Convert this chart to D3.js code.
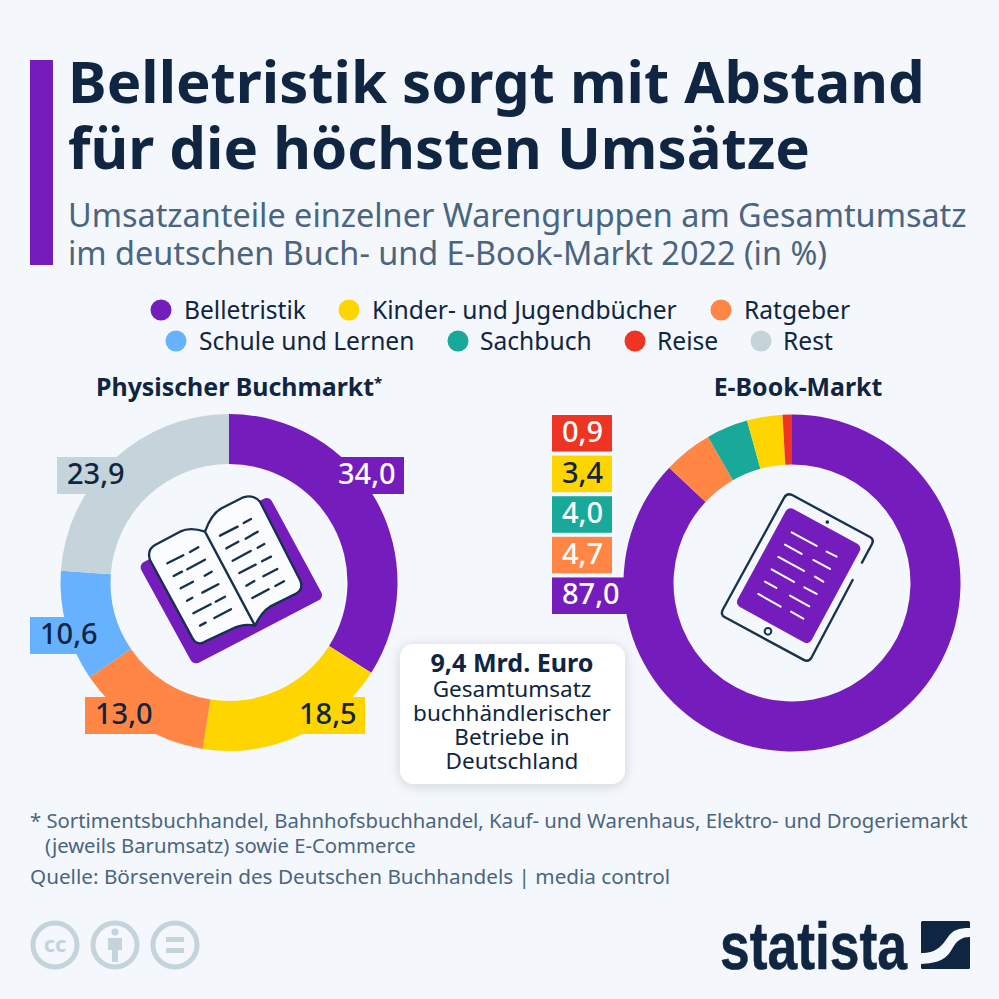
<!DOCTYPE html>
<html>
<head>
<meta charset="utf-8">
<script src="https://cdnjs.cloudflare.com/ajax/libs/d3/7.8.5/d3.min.js"></script>
<style>
  html, body { margin: 0; padding: 0; background: #f4f7fb; }
  svg { display: block; }
  text { font-family: "Noto Sans", sans-serif; }
</style>
</head>
<body>
<svg id="chart" width="999" height="999"></svg>
<script>
var categories = ["Belletristik", "Kinder- und Jugendbücher", "Ratgeber", "Schule und Lernen", "Sachbuch", "Reise", "Rest"];
var colors = ["#741cbc", "#ffd500", "#ff8645", "#66b2ff", "#18a999", "#ee3524", "#c5d3db"];

var printCategories = ["Belletristik", "Kinder- und Jugendbücher", "Ratgeber", "Schule und Lernen", "Rest"];
var printValues = [34.0, 18.5, 13.0, 10.6, 23.9];
var ebookCategories = ["Belletristik", "Ratgeber", "Sachbuch", "Kinder- und Jugendbücher", "Reise"];
var ebookValues = [87.0, 4.7, 4.0, 3.4, 0.9];
var ebookStack = ["Reise", "Kinder- und Jugendbücher", "Sachbuch", "Ratgeber", "Belletristik"];

var titleLines = ["Belletristik sorgt mit Abstand", "für die höchsten Umsätze"];
var subtitleLines = ["Umsatzanteile einzelner Warengruppen am Gesamtumsatz", "im deutschen Buch- und E-Book-Markt 2022 (in %)"];
var calloutLines = ["Gesamtumsatz", "buchhändlerischer", "Betriebe in", "Deutschland"];

var navy = "#0f2542", slate = "#4a6580";
var color = d3.scaleOrdinal().domain(categories).range(colors);
var fmt = function(v) { return v.toFixed(1).replace(".", ","); };
var darkLabels = ["Kinder- und Jugendbücher", "Schule und Lernen", "Rest"];
var labelColor = function(c) { return darkLabels.indexOf(c) >= 0 ? navy : "#fff"; };
// the value labels of the physical market are dark on orange too, the e-book ones are white
var printLabelColor = function(c) { return c === "Belletristik" ? "#fff" : navy; };

var svg = d3.select("#chart");

var defs = svg.append("defs");
var shadow = defs.append("filter").attr("id", "soft").attr("x", "-20%").attr("y", "-20%").attr("width", "140%").attr("height", "140%");
shadow.append("feDropShadow").attr("dx", 0).attr("dy", 2).attr("stdDeviation", 6).attr("flood-color", "#0f2542").attr("flood-opacity", 0.16);

// header
svg.append("rect").attr("x", 30).attr("y", 60).attr("width", 23).attr("height", 205).attr("fill", colors[0]);
svg.selectAll(".title").data(titleLines).enter().append("text")
  .attr("x", 68).attr("y", function(d, i) { return 103 + i * 66; })
  .attr("font-size", 58.1).attr("font-weight", 700).attr("fill", navy).text(function(d) { return d; });
svg.selectAll(".sub").data(subtitleLines).enter().append("text")
  .attr("x", 68).attr("y", function(d, i) { return 227 + i * 38; })
  .attr("font-size", 32.4).attr("fill", slate).text(function(d) { return d; });

// legend, two centred rows
var legendRows = [
  { y: 310, items: [{ c: 0, dot: 161, tx: 184 }, { c: 1, dot: 349, tx: 372 }, { c: 2, dot: 721, tx: 744 }] },
  { y: 341, items: [{ c: 3, dot: 176, tx: 199 }, { c: 4, dot: 458, tx: 480 }, { c: 5, dot: 635, tx: 657 }, { c: 6, dot: 761, tx: 783 }] }
];
legendRows.forEach(function(row) {
  row.items.forEach(function(it) {
    svg.append("circle").attr("cx", it.dot).attr("cy", row.y).attr("r", 10.5).attr("fill", colors[it.c]);
    svg.append("text").attr("x", it.tx).attr("y", row.y + 8.5).attr("font-size", 24.6).attr("fill", navy).text(categories[it.c]);
  });
});

// chart headings
svg.append("text").attr("x", 96).attr("y", 396).attr("font-size", 24.9).attr("font-weight", 700).attr("fill", navy)
  .text("Physischer Buchmarkt").append("tspan").attr("font-size", 15).attr("dy", -8).text("*");
svg.append("text").attr("x", 798).attr("y", 396).attr("text-anchor", "middle").attr("font-size", 24.9).attr("font-weight", 700).attr("fill", navy).text("E-Book-Markt");

var arc = d3.arc().innerRadius(118.5).outerRadius(168.5);
var pie = d3.pie().sort(null).value(function(d) { return d.v; });

function donut(cx, cy, names, values) {
  var rows = names.map(function(n, i) { return { n: n, v: values[i] }; });
  svg.append("g").attr("transform", "translate(" + cx + "," + cy + ")")
    .selectAll("path").data(pie(rows)).enter().append("path")
    .attr("d", arc).attr("fill", function(d) { return color(d.data.n); });
}
donut(229, 582.5, printCategories, printValues);

// value labels, left donut; the tabs run into the ring of the same colour
var printBoxes = [
  { x: 328, y: 457 }, { x: 289, y: 697 }, { x: 85, y: 697 }, { x: 30, y: 617 }, { x: 57, y: 457 }
];
printCategories.forEach(function(c, i) {
  var b = printBoxes[i];
  svg.append("rect").attr("x", b.x).attr("y", b.y).attr("width", 76).attr("height", 37).attr("fill", color(c));
  svg.append("text").attr("x", b.x + 10).attr("y", b.y + 27)
    .attr("font-size", 29).attr("font-weight", 500).attr("fill", printLabelColor(c)).text(fmt(printValues[i]));
});

// value labels, stacked next to the e-book donut
var stackY = d3.scaleBand().domain(ebookStack).range([415, 614]).paddingInner(0.1);
ebookStack.forEach(function(c) {
  var w = c === "Belletristik" ? 90 : 60;
  svg.append("rect").attr("x", 552).attr("y", stackY(c)).attr("width", w).attr("height", stackY.bandwidth()).attr("fill", color(c));
});
donut(792, 583, ebookCategories, ebookValues);
ebookStack.forEach(function(c) {
  svg.append("text").attr("x", 562).attr("y", stackY(c) + 27)
    .attr("font-size", 29).attr("font-weight", 500).attr("fill", labelColor(c)).text(fmt(ebookValues[ebookCategories.indexOf(c)]));
});

// book icon, drawn in 3x crop units
var book = svg.append("g").attr("transform", "translate(130,480) scale(0.3333)");
book.append("path").attr("d", "M50,262 L410,72 L558,345 L198,532 Z").attr("fill", colors[0])
  .attr("stroke", colors[0]).attr("stroke-width", 36).attr("stroke-linejoin", "round");
book.append("path")
  .attr("d", "M225,155 Q180,140 150,155 L75,195 Q50,210 60,240 L185,470 Q200,500 225,485 L310,445 Q340,430 375,437 Q395,395 420,380 L500,340 Q522,325 510,300 L390,65 Q370,42 340,52 L275,85 Q245,100 225,155 Z M225,155 L375,437")
  .attr("fill", "#fbfcfd").attr("stroke", "#16304d").attr("stroke-width", 7).attr("stroke-linejoin", "round");
var bookLines = [
  [112,250,160,226],[180,216,205,202],[131,288,156,275],[172,268,225,239],[224,287,245,275],[152,325,189,305],
  [217,338,265,313],[171,362,187,353],[190,400,242,373],[257,365,285,350],[210,437,227,428],[253,414,303,388],
  [270,167,323,140],[341,129,363,117],[289,205,325,185],[347,176,383,155],[383,203,403,192],[308,242,362,213],[396,244,423,230],
  [328,279,377,254],[400,289,442,267],[349,317,373,303],[436,318,462,304],[367,354,416,328]
];
book.selectAll(".bl").data(bookLines).enter().append("line")
  .attr("x1", function(d) { return d[0]; }).attr("y1", function(d) { return d[1]; })
  .attr("x2", function(d) { return d[2]; }).attr("y2", function(d) { return d[3]; })
  .attr("stroke", "#16304d").attr("stroke-width", 7).attr("stroke-linecap", "round");

// tablet icon, drawn in 3x crop units
var tablet = svg.append("g").attr("transform", "translate(540,400) scale(0.3333)");
tablet.append("path")
  .attr("d", "M966,488 L996,432 Q1003,418 990,411 L758,286 Q742,277 733,292 L549,628 Q540,644 555,652 L790,779 Q806,788 815,772 L938,540")
  .attr("fill", "none").attr("stroke", "#16304d").attr("stroke-width", 7).attr("stroke-linecap", "round");
tablet.append("path").attr("d", "M752,342 L944,446 L800,712 L608,606 Z").attr("fill", colors[0])
  .attr("stroke", colors[0]).attr("stroke-width", 34).attr("stroke-linejoin", "round");
tablet.append("circle").attr("cx", 862).attr("cy", 366).attr("r", 5.5).attr("fill", "#16304d");
tablet.append("circle").attr("cx", 684).attr("cy", 694).attr("r", 10).attr("fill", "none").attr("stroke", "#16304d").attr("stroke-width", 6);
var tabletLines = [
  [755,397,830,438],[860,455,890,470],[735,434,785,462],[820,480,870,507],[715,471,792,513],[825,530,850,545],
  [695,508,762,546],[793,562,830,582],[675,545,709,564],[750,587,808,619],[655,582,722,620],[753,635,790,656]
];
tablet.selectAll(".tl").data(tabletLines).enter().append("line")
  .attr("x1", function(d) { return d[0]; }).attr("y1", function(d) { return d[1]; })
  .attr("x2", function(d) { return d[2]; }).attr("y2", function(d) { return d[3]; })
  .attr("stroke", "#fff").attr("stroke-width", 6).attr("stroke-linecap", "round");

// callout
svg.append("rect").attr("x", 400).attr("y", 644).attr("width", 225).attr("height", 140).attr("rx", 14)
  .attr("fill", "#fff").attr("filter", "url(#soft)");
svg.append("text").attr("x", 512).attr("y", 672).attr("text-anchor", "middle").attr("font-size", 25.1).attr("font-weight", 700).attr("fill", navy).text("9,4 Mrd. Euro");
svg.selectAll(".co").data(calloutLines).enter().append("text")
  .attr("x", 512).attr("y", function(d, i) { return 697 + i * 24; }).attr("text-anchor", "middle")
  .attr("font-size", 22.5).attr("fill", navy).text(function(d) { return d; });

// footnotes
svg.append("text").attr("x", 30).attr("y", 828).attr("font-size", 20.3).attr("fill", slate)
  .text("* Sortimentsbuchhandel, Bahnhofsbuchhandel, Kauf- und Warenhaus, Elektro- und Drogeriemarkt");
svg.append("text").attr("x", 45).attr("y", 853).attr("font-size", 20.3).attr("fill", slate).text("(jeweils Barumsatz) sowie E-Commerce");
svg.append("text").attr("x", 30).attr("y", 884).attr("font-size", 20.7).attr("fill", slate).text("Quelle: Börsenverein des Deutschen Buchhandels | media control");

// licence badges
var ccGrey = "#c5d3db";
[55, 115, 175].forEach(function(x) {
  svg.append("circle").attr("cx", x).attr("cy", 945).attr("r", 22).attr("fill", "none").attr("stroke", ccGrey).attr("stroke-width", 5);
});
svg.append("text").attr("x", 55).attr("y", 952).attr("text-anchor", "middle").attr("font-size", 22).attr("font-weight", 700).attr("fill", ccGrey).text("cc");
svg.append("circle").attr("cx", 115).attr("cy", 932).attr("r", 3.5).attr("fill", ccGrey);
svg.append("path").attr("d", "M108,938 H122 V950 H118 V962 H112 V950 H108 Z").attr("fill", ccGrey);
svg.append("rect").attr("x", 166).attr("y", 937).attr("width", 18).attr("height", 5).attr("fill", ccGrey);
svg.append("rect").attr("x", 166).attr("y", 948).attr("width", 18).attr("height", 5).attr("fill", ccGrey);

// logo
svg.append("text").attr("x", 720).attr("y", 968.5).attr("textLength", 187).attr("lengthAdjust", "spacingAndGlyphs")
  .attr("font-size", 67).attr("font-weight", 700).attr("fill", navy).attr("stroke", navy).attr("stroke-width", 0.6)
  .style("font-family", "'Liberation Sans', sans-serif").text("statista");
svg.append("rect").attr("x", 921).attr("y", 921).attr("width", 49).attr("height", 48).attr("rx", 1.5).attr("fill", navy);
svg.append("path").attr("d", "M921,953 C938,953 942,945 948,937 C953,930 958,928 970,928 V937 C962,937 957,940 952,949 C946,960 938,963 921,964 Z").attr("fill", "#f4f7fb");
</script>
</body>
</html>
